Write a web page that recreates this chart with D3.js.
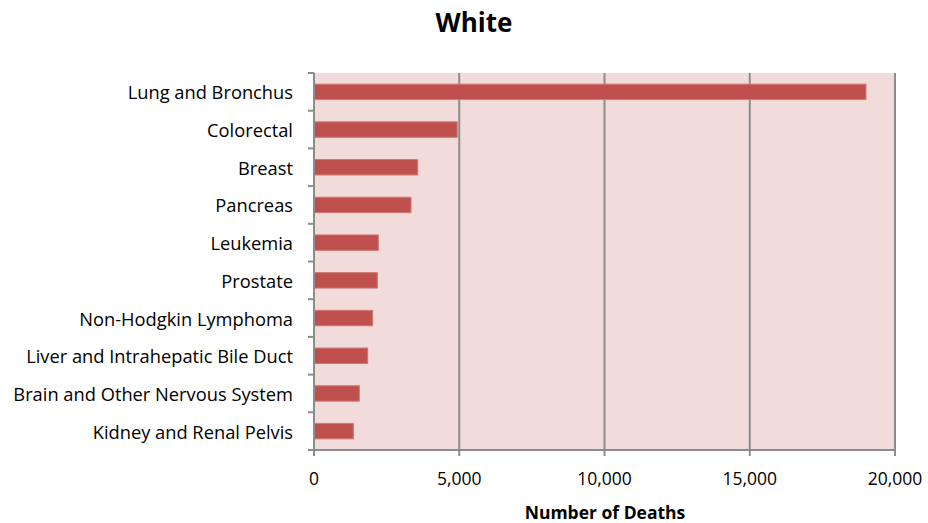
<!DOCTYPE html>
<html>
<head>
<meta charset="utf-8">
<script src="https://cdn.jsdelivr.net/npm/d3@7"></script>
<style>
  html, body { margin: 0; padding: 0; background: #fff; }
  svg { display: block; font-family: "Open Sans", Lato, sans-serif; }
</style>
</head>
<body>
<svg id="chart" width="928" height="523"></svg>
<script>
// Cancer deaths by site
const categories = [
  "Lung and Bronchus",
  "Colorectal",
  "Breast",
  "Pancreas",
  "Leukemia",
  "Prostate",
  "Non-Hodgkin Lymphoma",
  "Liver and Intrahepatic Bile Duct",
  "Brain and Other Nervous System",
  "Kidney and Renal Pelvis"
];
const deaths = [19000, 4930, 3570, 3340, 2215, 2180, 2020, 1848, 1560, 1355];
const xTicks = [0, 5000, 10000, 15000, 20000];
const chartTitle = "White";
const xTitle = "Number of Deaths";

const svg = d3.select("#chart");
const margin = { top: 73, right: 33, bottom: 73, left: 314 };
const width = 928, height = 523;
const innerW = width - margin.left - margin.right;
const innerH = height - margin.top - margin.bottom;

const x = d3.scaleLinear().domain([0, 20000]).range([0, innerW]);
const y = d3.scaleBand().domain(categories).range([0, innerH]).paddingInner(0.59).paddingOuter(0.295);
const yOuter = d3.scaleBand().domain(categories).range([0, innerH]);

const g = svg.append("g").attr("transform", `translate(${margin.left},${margin.top})`);

// plot background
g.append("rect").attr("width", innerW).attr("height", innerH).attr("fill", "#F2DCDB");

// vertical gridlines
const gridColor = "#8C8C8C";
g.selectAll(".grid").data(xTicks.slice(1)).join("line")
  .attr("x1", d => x(d)).attr("x2", d => x(d))
  .attr("y1", 0).attr("y2", innerH)
  .attr("stroke", gridColor).attr("stroke-width", 2);

// bars
g.selectAll(".bar").data(deaths).join("rect")
  .attr("x", 0)
  .attr("y", (d, i) => y(categories[i]))
  .attr("width", d => x(d))
  .attr("height", y.bandwidth())
  .attr("fill", "#C0504D")
  .attr("stroke", "#D07A78")
  .attr("stroke-width", 1);

// left axis with ticks at band boundaries
g.append("line").attr("x1", 0).attr("x2", 0).attr("y1", 0).attr("y2", innerH)
  .attr("stroke", gridColor).attr("stroke-width", 2);
const bounds = categories.map(c => yOuter(c)).concat([innerH]);
g.selectAll(".ytick").data(bounds).join("line")
  .attr("x1", -6).attr("x2", 0).attr("y1", d => d).attr("y2", d => d)
  .attr("stroke", gridColor).attr("stroke-width", 2);

// bottom axis
g.append("line").attr("x1", 0).attr("x2", innerW).attr("y1", innerH).attr("y2", innerH)
  .attr("stroke", gridColor).attr("stroke-width", 2);
g.selectAll(".xtick").data(xTicks).join("line")
  .attr("x1", d => x(d)).attr("x2", d => x(d)).attr("y1", innerH).attr("y2", innerH + 6)
  .attr("stroke", gridColor).attr("stroke-width", 2);

// category labels
g.selectAll(".ylab").data(categories).join("text")
  .attr("x", -21)
  .attr("y", d => yOuter(d) + yOuter.bandwidth() / 2)
  .attr("text-anchor", "end")
  .attr("dominant-baseline", "central")
  .attr("font-size", 18.3)
  .attr("fill", "#000")
  .text(d => d);

// x tick labels
const fmt = d3.format(",");
g.selectAll(".xlab").data(xTicks).join("text")
  .attr("x", d => x(d))
  .attr("y", innerH + 28)
  .attr("dominant-baseline", "central")
  .attr("text-anchor", "middle")
  .attr("font-size", 17.5)
  .attr("fill", "#000")
  .text(d => fmt(d));

// titles
svg.append("text")
  .attr("x", 474).attr("y", 22)
  .attr("dominant-baseline", "central")
  .attr("text-anchor", "middle")
  .attr("font-size", 26).attr("font-weight", "bold")
  .text(chartTitle);

svg.append("text")
  .attr("x", 605).attr("y", 512)
  .attr("dominant-baseline", "central")
  .attr("text-anchor", "middle")
  .attr("font-size", 17.5).attr("font-weight", "bold")
  .text(xTitle);
</script>
</body>
</html>
